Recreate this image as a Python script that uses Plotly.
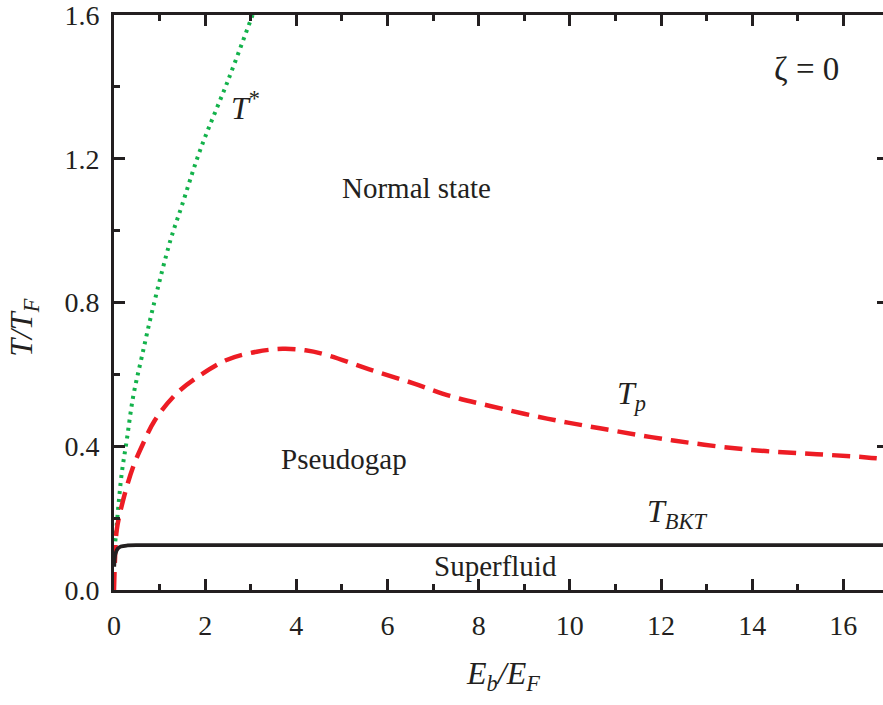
import plotly.graph_objects as go

# T* (green dotted)
tstar_x = [0.0, 0.044, 0.095, 0.17, 0.28, 0.42, 0.61, 0.86, 1.24, 1.48, 1.89, 2.52, 3.04, 3.10]
tstar_y = [0.09, 0.158, 0.232, 0.325, 0.417, 0.538, 0.649, 0.788, 0.974, 1.066, 1.224, 1.424, 1.60, 1.62]

# Tp (red dashed)
tp_x = [0.0, 0.02, 0.06, 0.20, 0.42, 0.64, 0.90, 1.375, 1.85, 2.47, 3.13, 3.7, 4.2, 4.67, 5.6,
        6.57, 7.37, 8.25, 9.5, 10.66, 12.27, 13.95, 15.42, 16.51, 16.87]
tp_y = [0.0, 0.08, 0.167, 0.25, 0.343, 0.408, 0.473, 0.547, 0.594, 0.64, 0.663, 0.671, 0.667,
        0.654, 0.614, 0.575, 0.540, 0.512, 0.477, 0.450, 0.416, 0.390, 0.378, 0.369, 0.365]

# T_BKT (black solid)
bkt_x = [0.005, 0.03, 0.08, 0.15, 0.3, 0.6, 17.0]
bkt_y = [0.065, 0.10, 0.115, 0.121, 0.124, 0.125, 0.125]

XMAX = 16.87
SERIF = "Liberation Serif"
INK = "#231f20"

fig = go.Figure()
fig.add_trace(go.Scatter(x=tstar_x, y=tstar_y, mode="lines", line_shape="spline",
                         line=dict(color="#13b24b", width=4, dash="3px,5px"), showlegend=False))
fig.add_trace(go.Scatter(x=tp_x, y=tp_y, mode="lines", line_shape="spline",
                         line=dict(color="#ed1c24", width=4.5, dash="18px,9px"), showlegend=False))
fig.add_trace(go.Scatter(x=bkt_x, y=bkt_y, mode="lines", line_shape="spline",
                         line=dict(color=INK, width=3.8), showlegend=False))
# invisible trace for the right-hand tick axis
fig.add_trace(go.Scatter(x=[0], y=[0], yaxis="y2", mode="markers",
                         marker=dict(opacity=0), showlegend=False, hoverinfo="skip"))

axis_common = dict(showline=True, linecolor=INK, linewidth=3, ticks="inside",
                   tickcolor=INK, tickwidth=2.5, ticklen=11, showgrid=False, zeroline=False,
                   ticklabeloverflow="allow",
                   tickfont=dict(family=SERIF, size=28, color=INK))

fig.update_layout(
    width=883, height=705,
    margin=dict(l=114, r=0, t=15, b=115),
    paper_bgcolor="white", plot_bgcolor="white",
    xaxis=dict(range=[0, XMAX], tickmode="array", tickvals=[0, 2, 4, 6, 8, 10, 12, 14, 16],
               ticktext=["0", "2", "4", "6", "8", "10", "12", "14", "16"],
               mirror="ticks", ticklabelstandoff=8,
               minor=dict(ticks="inside", ticklen=6, tickwidth=2.5, tickcolor=INK, dtick=1),
               **axis_common),
    yaxis=dict(range=[0, 1.6], tickmode="array", tickvals=[0, 0.4, 0.8, 1.2, 1.6],
               ticktext=["0.0", "0.4", "0.8", "1.2", "1.6"], ticklabelstandoff=6,
               minor=dict(ticks="inside", ticklen=6, tickwidth=2.5, tickcolor=INK, dtick=0.2),
               **axis_common),
    yaxis2=dict(overlaying="y", side="right", range=[0, 1.6], showline=False, ticks="inside",
                tickvals=[0, 0.4, 0.8, 1.2, 1.6], ticklen=6, tickwidth=2.5, tickcolor=INK,
                showticklabels=False, showgrid=False, zeroline=False),
)

def txt(x, y, s, size=29, xanchor="center", yanchor="middle", xref="x", yref="y", angle=0):
    fig.add_annotation(x=x, y=y, xref=xref, yref=yref, text=s, showarrow=False,
                       xanchor=xanchor, yanchor=yanchor, textangle=angle,
                       font=dict(family=SERIF, size=size, color=INK))

txt(6.64, 1.118, "Normal state")
txt(5.035, 0.364, "Pseudogap")
txt(8.38, 0.066, "Superfluid")
txt(15.2, 1.45, "ζ = 0", size=33)
txt(2.52, 1.346, "<i>T</i><sup>*</sup>", size=32, xanchor="left")
txt(10.99, 0.542, "<i>T</i><sub><i>p</i></sub>", size=32, xanchor="left")
txt(11.65, 0.212, "<i>T</i><sub><i>BKT</i></sub>", size=32, xanchor="left")

txt(0.506, -0.148, "<i>E</i><sub><i>b</i></sub><i>/E</i><sub><i>F</i></sub>", size=32,
    xref="paper", yref="paper")
txt(-0.117, 0.456, "<i>T/T</i><sub><i>F</i></sub>", size=32, xref="paper", yref="paper", angle=-90)

fig.write_html("out.html", config={"displayModeBar": False},
               post_script="document.body.style.margin='0';document.body.style.overflow='hidden';")
